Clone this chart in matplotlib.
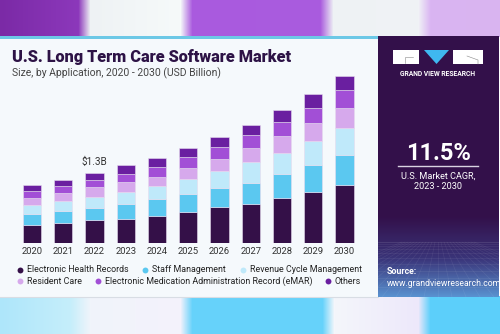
import matplotlib
matplotlib.use('Agg')

import matplotlib.pyplot as plt
import numpy as np
from matplotlib.colors import to_rgb
from matplotlib.patches import Rectangle, Polygon

plt.rcParams['font.family'] = ['Roboto', 'DejaVu Sans']

# data, USD billion
years = ['2020', '2021', '2022', '2023', '2024', '2025', '2026', '2027', '2028', '2029', '2030']
segments = ['Electronic Health Records', 'Staff Management', 'Revenue Cycle Management',
            'Resident Care', 'Electronic Medication Administration Record (eMAR)', 'Others']
ehr = [0.34, 0.38, 0.42, 0.45, 0.50, 0.58, 0.66, 0.72, 0.83, 0.95, 1.07]
staff = [0.20, 0.22, 0.23, 0.28, 0.31, 0.32, 0.36, 0.39, 0.45, 0.49, 0.55]
revenue = [0.17, 0.18, 0.21, 0.22, 0.24, 0.28, 0.31, 0.38, 0.39, 0.45, 0.51]
resident = [0.12, 0.14, 0.17, 0.18, 0.18, 0.20, 0.23, 0.26, 0.30, 0.33, 0.37]
emar = [0.13, 0.13, 0.13, 0.15, 0.17, 0.20, 0.21, 0.25, 0.26, 0.28, 0.32]
others = [0.12, 0.12, 0.14, 0.17, 0.17, 0.18, 0.18, 0.18, 0.22, 0.24, 0.26]
series = [ehr, staff, revenue, resident, emar, others]
colors = ['#341048', '#5bc8f0', '#bfe9fa', '#d6a9ec', '#a24fd6', '#6a1fa0']
label_2022 = '$1.3B'

W, H = 500, 334
fig = plt.figure(figsize=(W / 100, H / 100), dpi=100)

# background decoration in pixel coords
bg = fig.add_axes([0, 0, 1, 1])
bg.set_xlim(0, W)
bg.set_ylim(H, 0)
bg.axis('off')


def band(stops, width):
    xs = np.arange(width)
    px = [s[0] for s in stops]
    cols = np.array([to_rgb(s[1]) for s in stops])
    return np.stack([np.interp(xs, px, cols[:, i]) for i in range(3)], axis=-1)


top_stops = [(0, '#7b2aa6'), (78, '#8c38bb'), (90, '#eef2f4'), (180, '#f6fafa'),
             (192, '#a95ade'), (320, '#aa5cde'), (333, '#eef2f4'), (418, '#f0f2f6'),
             (430, '#dab5f2'), (500, '#d9b4f0')]
bot_stops = [(0, '#aee6fa'), (70, '#c5eefb'), (90, '#f0f4fa'), (180, '#f4f2fc'),
             (192, '#66d2fa'), (322, '#66d2fa'), (334, '#f4f6fb'), (418, '#ede8fa'),
             (430, '#5ccffa'), (500, '#5ccffa')]
top = np.repeat(band(top_stops, W)[None, :, :], 37, axis=0)
bot = np.repeat(band(bot_stops, W)[None, :, :], 38, axis=0)
bg.imshow(top, extent=(0, W, 37, 0), aspect='auto', zorder=0)
bg.imshow(bot, extent=(0, W, H, 296), aspect='auto', zorder=0)

# main panel
bg.add_patch(Rectangle((0, 36), 378, 2.5, color='#6cc8e6', lw=0, zorder=1))
bg.add_patch(Rectangle((0, 38.5), 378, 258.5, color='#f5f9fc', lw=0, zorder=1))
bg.plot([0, 378], [297, 297], color='#d8dde4', lw=0.8, zorder=2)

# right panel with gradient at the bottom
grad_stops = [(0, '#33104a'), (180, '#33104a'), (222, '#3a3479'), (261, '#5a94d2')]
ys = np.arange(261)
gc = np.array([to_rgb(s[1]) for s in grad_stops])
col = np.stack([np.interp(ys, [s[0] for s in grad_stops], gc[:, i]) for i in range(3)], axis=-1)
panel = np.repeat(col[:, None, :], 2, axis=1)
bg.imshow(panel, extent=(378, 499, 297, 36), aspect='auto', zorder=2)
for k in range(12):
    yy = 242 + k * k * 0.45
    if yy < 296:
        bg.plot([378, 499], [yy, yy], color='white', alpha=0.08, lw=0.5, zorder=3)
for k in range(-12, 13):
    bg.plot([438 + k * 3, 438 + k * 14], [242, 297], color='white', alpha=0.07, lw=0.5, zorder=3)

# logo
bg.add_patch(Rectangle((393, 50), 26, 14, color='white', lw=0, zorder=4))
bg.add_patch(Polygon([(424, 50), (449, 50), (436.5, 64)], closed=True, color='#3fb8f0', lw=0, zorder=4))
bg.add_patch(Rectangle((453, 50), 30, 14, color='white', lw=0, zorder=4))
bg.plot([405, 405, 413], [63, 57, 57], color='#888888', lw=0.4, zorder=5)
bg.plot([467, 478, 478], [56, 60, 64], color='#888888', lw=0.4, zorder=5)
bg.text(438, 73.5, 'GRAND VIEW RESEARCH', color='white', fontsize=4.9, fontweight='bold',
        ha='center', va='center', zorder=5)

bg.text(439, 153, '11.5%', color='white', fontsize=17, fontweight='bold',
        ha='center', va='center', zorder=5)
bg.plot([398, 478], [166, 166], color='#d9d2e2', lw=1, zorder=5)
bg.text(438.5, 176.5, 'U.S. Market CAGR,', color='white', fontsize=6.6, ha='center', va='center', zorder=5)
bg.text(438.5, 186.5, '2023 - 2030', color='white', fontsize=6.6, ha='center', va='center', zorder=5)
bg.text(386.5, 272, 'Source:', color='white', fontsize=6.3, fontweight='bold', va='center', zorder=5)
bg.text(386.5, 283, 'www.grandviewresearch.com', color='white', fontsize=6.2, va='center', zorder=5)

# titles
bg.text(12, 57, 'U.S. Long Term Care Software Market', color='#2d1346', fontsize=11.7,
        fontweight='heavy', va='center', zorder=5)
bg.text(12, 73, 'Size, by Application, 2020 - 2030 (USD Billion)', color='#444444',
        fontsize=7.5, va='center', zorder=5)

# legend
legend_pos = [(20, 269.5), (144.5, 269.5), (242.5, 269.5), (20, 281), (98, 281), (327.5, 281)]
for (lx, ly), name, c in zip(legend_pos, segments, colors):
    bg.scatter([lx], [ly], s=18, color=c, lw=0, zorder=5)
    bg.text(lx + 7, ly, name, color='#222222', fontsize=6.4, va='center', zorder=5)

# stacked bars
px_per_b = 70.6 / 1.3
ax = fig.add_axes([13.25 / W, 90.7 / H, 350 / W, 183.3 / H])
ax.patch.set_alpha(0)
x = np.arange(len(years))
bottom = np.zeros(len(years))
for vals, c in zip(series, colors):
    ax.bar(x, vals, width=0.58, bottom=bottom, color=c, edgecolor='#e6dcef', linewidth=0.4, zorder=3)
    bottom += np.array(vals)
ax.set_xlim(-0.6, 10.6)
ax.set_ylim(0, 183.3 / px_per_b)
ax.set_xticks(x)
ax.set_xticklabels(years, fontsize=6.8, color='#333333')
ax.tick_params(axis='x', length=0, pad=2.5)
ax.set_yticks([])
for s in ax.spines.values():
    s.set_visible(False)
ax.text(2, bottom[2] + 0.1, label_2022, ha='center', va='bottom', fontsize=7.2, color='#333333')

fig.savefig('out.png', dpi=100)
